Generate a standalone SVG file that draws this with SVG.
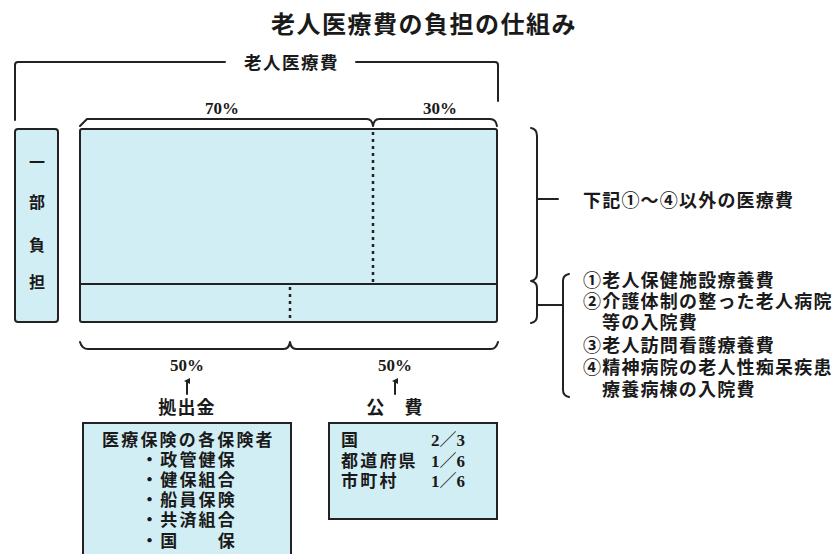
<svg xmlns="http://www.w3.org/2000/svg" width="835" height="554" viewBox="0 0 835 554">
<defs>
<style>
.t{font-family:"Noto Sans CJK JP","Noto Sans CJK SC",sans-serif;fill:#1a1a1a;font-weight:bold}
.b{font-size:18px;letter-spacing:1.2px}
.s{font-size:17px;letter-spacing:2.2px}
.p{font-family:"Liberation Serif","Noto Sans CJK JP",serif;font-size:17px;font-weight:bold;fill:#1a1a1a;text-anchor:middle}
.ln{fill:none;stroke:#222;stroke-width:2;stroke-linejoin:round;stroke-linecap:round}
.box{fill:#d2eef5;stroke:#222;stroke-width:2}
.dot{fill:none;stroke:#222;stroke-width:2.5;stroke-dasharray:3 4}
</style>
<marker id="ah" viewBox="0 0 6 6" refX="3" refY="3" markerWidth="6" markerHeight="6" orient="auto-start-reverse" markerUnits="userSpaceOnUse">
<path d="M0,6 L3,0 L6,6 Z" fill="#222"/>
</marker>
</defs>
<rect width="835" height="554" fill="#ffffff"/>
<text class="t" x="424" y="33" font-size="24" letter-spacing="1.5" text-anchor="middle">老人医療費の負担の仕組み</text>

<g id="connectors">
<path class="ln" d="M15,120 L15,65 Q15,62 18,62 L225,62"/>
<path class="ln" d="M356,62 L495,62 Q498,62 498,65 L498,101"/>
<path class="ln" d="M80,126 L87,119 L367,119 Q372,119 373,126 Q374,119 379,119 L490,119 Q496,119 497,126"/>
<path class="ln" d="M80,342 Q82,349 88,349 L284,349 Q289,349 290,342 Q291,349 296,349 L491,349 Q496,349 498,342"/>
<path class="ln" d="M531,128 Q537,129 537,136 L537,274 Q537,280 531,281 Q537,282 537,288 L537,316 Q537,322 531,323"/>
<path class="ln" d="M537,199 H558"/>
<path class="ln" d="M537,305 H563"/>
<path class="ln" d="M569,274 Q563,275 563,281 L563,390 Q563,396 569,397"/>
<path class="ln" d="M187,394 V381" marker-end="url(#ah)"/>
<path class="ln" d="M395,394 V381" marker-end="url(#ah)"/>
</g>

<g id="label-total">
<text class="t" x="244" y="69" font-size="17.5" letter-spacing="1.5">老人医療費</text>
</g>
<g id="label-70">
<text class="p" x="222" y="114">70%</text>
</g>
<g id="label-30">
<text class="p" x="440" y="114">30%</text>
</g>

<g id="node-ichibu">
<rect class="box" x="15" y="129" width="43" height="193" rx="3"/>
<text class="t" x="37" font-size="16" text-anchor="middle"><tspan x="37" y="168">一</tspan><tspan x="37" y="208">部</tspan><tspan x="37" y="251">負</tspan><tspan x="37" y="288">担</tspan></text>
</g>

<g id="node-main">
<rect class="box" x="80" y="129" width="417" height="193" rx="2"/>
<line class="ln" x1="80" y1="284" x2="497" y2="284"/>
<line class="dot" x1="373" y1="132" x2="373" y2="282"/>
<line class="dot" x1="290" y1="287" x2="290" y2="321"/>
</g>

<g id="label-other">
<text class="t b" x="583" y="207">下記①～④以外の医療費</text>
</g>
<g id="label-list">
<text class="t b" x="583" y="287">①老人保健施設療養費</text>
<text class="t b" x="583" y="308">②介護体制の整った老人病院</text>
<text class="t b" x="602" y="329">等の入院費</text>
<text class="t b" x="583" y="352">③老人訪問看護療養費</text>
<text class="t b" x="583" y="374">④精神病院の老人性痴呆疾患</text>
<text class="t b" x="602" y="396">療養病棟の入院費</text>
</g>

<g id="label-50-left">
<text class="p" x="187" y="371">50%</text>
<text class="t b" x="187" y="414" text-anchor="middle">拠出金</text>
</g>
<g id="label-50-right">
<text class="p" x="395" y="371">50%</text>
<text class="t b" x="395" y="414" text-anchor="middle">公　費</text>
</g>

<g id="node-insurers">
<rect class="box" x="83" y="423" width="208" height="150"/>
<text class="t s" x="102" y="446">医療保険の各保険者</text>
<text class="t s" x="141" y="466">・政管健保</text>
<text class="t s" x="141" y="486">・健保組合</text>
<text class="t s" x="141" y="506">・船員保険</text>
<text class="t s" x="141" y="526">・共済組合</text>
<text class="t s" x="141" y="547">・国　　保</text>
</g>

<g id="node-public">
<rect class="box" x="329" y="423" width="168" height="96"/>
<text class="t s" x="341" y="446">国</text>
<text class="t s" x="341" y="467">都道府県</text>
<text class="t s" x="341" y="487">市町村</text>
<text class="p" x="448" y="446" font-size="18" text-anchor="start">2／3</text>
<text class="p" x="448" y="467" font-size="18" text-anchor="start">1／6</text>
<text class="p" x="448" y="487" font-size="18" text-anchor="start">1／6</text>
</g>
</svg>
